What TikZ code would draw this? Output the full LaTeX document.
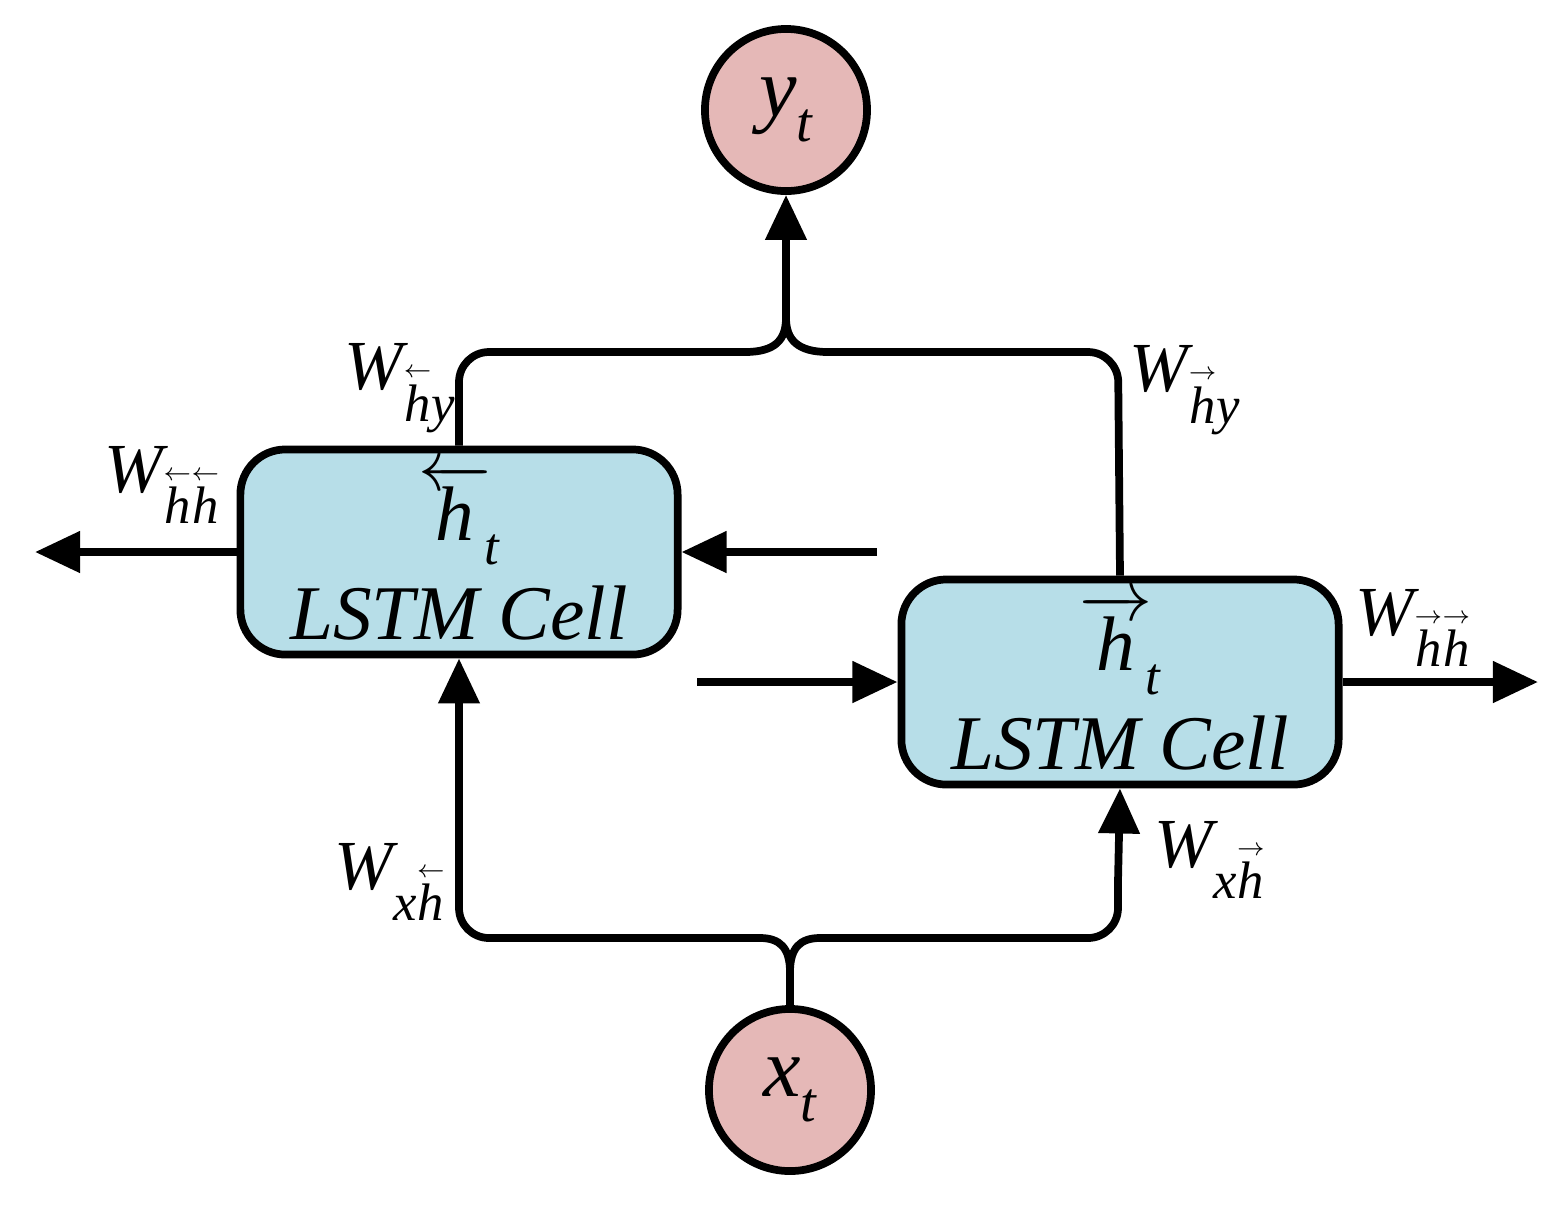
\documentclass[tikz,border=0pt]{standalone}
\usepackage{fontspec}
\setmainfont{Liberation Serif}
\usetikzlibrary{arrows.meta}
\newcommand{\hL}{\ensuremath{\overleftarrow{\hbox{\itshape h}}}}
\newcommand{\hR}{\ensuremath{\overrightarrow{\hbox{\itshape h}}}}
\newcommand{\sL}{\ensuremath{\mathop{\hbox{\itshape h}}\limits^{\scriptscriptstyle\leftarrow}}}
\newcommand{\sR}{\ensuremath{\mathop{\hbox{\itshape h}}\limits^{\scriptscriptstyle\rightarrow}}}
\newcommand{\wl}[1]{{\itshape W}\raisebox{-0.45em}{\fontsize{15}{15}\selectfont\itshape #1}}
\definecolor{pk}{HTML}{E5B8B7}
\definecolor{bl}{HTML}{B7DEE8}
\begin{document}
\begin{tikzpicture}[x=0.01cm,y=-0.01cm,
 ln/.style={line width=2.2pt},
 ar/.style={ln,-{Triangle[length=0.45cm,width=0.4cm]}},
 box/.style={draw,line width=2.2pt,fill=bl,rounded corners=0.45cm,minimum width=4.37cm,minimum height=2.05cm,align=center,font=\fontsize{22}{26}\selectfont\itshape},
 circ/.style={circle,draw,line width=2.2pt,fill=pk,minimum size=1.62cm,font=\fontsize{24}{26}\selectfont\itshape},
 lab/.style={font=\fontsize{20}{22}\selectfont}]
\useasboundingbox (0,0) rectangle (1563,1205);
\node[circ] (y) at (786,110) {y\raisebox{-0.3em}{\fontsize{16}{16}\selectfont t}};
\node[circ] (x) at (790,1090) {x\raisebox{-0.3em}{\fontsize{16}{16}\selectfont t}};
\node[box] (L) at (459,552) {\hL\kern-2pt\raisebox{-0.3em}{\fontsize{15}{15}\selectfont t}\\[2pt] LSTM Cell};
\node[box] (R) at (1120,682) {\hR\kern-2pt\raisebox{-0.3em}{\fontsize{15}{15}\selectfont t}\\[2pt] LSTM Cell};
\coordinate (lo) at (35,552);
\coordinate (li) at (877,552);
\coordinate (ri) at (697,682);
\coordinate (ro) at (1538,682);
\draw[ar] (L.west) -- (lo);
\draw[ar] (li) -- (L.east);
\draw[ar] (ri) -- (R.west);
\draw[ar] (R.east) -- (ro);
\draw[ln,rounded corners=0.3cm] (L.north) -- (459,352) -- (745,352);
\draw[ln] (745,352) .. controls (775,352) and (786,340) .. (786,318);
\draw[ln,rounded corners=0.3cm] (R.north) -- (1118,352) -- (828,352);
\draw[ln] (828,352) .. controls (798,352) and (786,340) .. (786,318);
\draw[ar] (786,320) -- (y.south);
\draw[ln] (x.north) -- (790,972) .. controls (790,948) and (780,938) .. (760,938);
\draw[ln] (790,972) .. controls (790,948) and (800,938) .. (820,938);
\draw[ln,rounded corners=0.3cm] (760,938) -- (459,938) -- (459,880);
\draw[ln,rounded corners=0.3cm] (820,938) -- (1118,938) -- (1118,880);
\draw[ar] (459,882) -- (L.south);
\draw[ar] (1118,882) -- (R.south);
\node[lab] (a) at (400,388) {\wl{\sL y}};
\node[lab] (b) at (162,485) {\wl{\sL\sL}};
\node[lab] (c) at (1185,390) {\wl{\sR y}};
\node[lab] (d) at (1413,628) {\wl{\sR\sR}};
\node[lab] (e) at (390,882) {\wl{x\sL}};
\node[lab] (f) at (1210,860) {\wl{x\sR}};
\end{tikzpicture}
\end{document}
